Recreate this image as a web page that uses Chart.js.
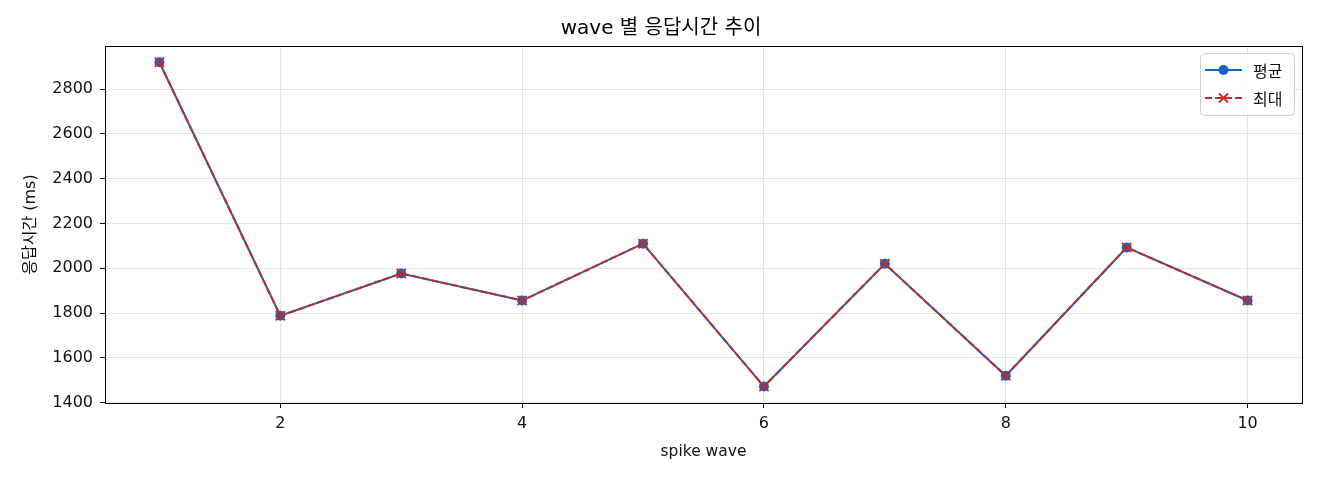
<!DOCTYPE html>
<html>
<head>
<meta charset="utf-8">
<script src="https://cdn.jsdelivr.net/npm/chart.js@4.4.1/dist/chart.umd.min.js"></script>
<style>
  html, body { margin: 0; padding: 0; background: #fff; }
  #wrap { width: 1320px; height: 480px; }
</style>
</head>
<body>
<div id="wrap"><canvas id="waveChart" width="1320" height="480"></canvas></div>
<script>
// wave number on the x axis
const waves = [1, 2, 3, 4, 5, 6, 7, 8, 9, 10];
// response times (ms)
const avgTimes = [2920, 1788, 1977, 1856, 2110, 1472, 2020, 1520, 2093, 1856];
const maxTimes = [2920, 1788, 1977, 1856, 2110, 1472, 2020, 1520, 2093, 1856];
// tick labels
const xTicks = [2, 4, 6, 8, 10];
const yTicks = [1400, 1600, 1800, 2000, 2200, 2400, 2600, 2800];

const FONT = "'DejaVu Sans', 'Noto Sans CJK KR', sans-serif";
const BLUE = '#1565C0';
const RED = '#C62828';
const TEXT = '#111';

function toPoints(values) {
    return waves.map((w, i) => ({ x: w, y: values[i] }));
}

/**
 * Box round the plot area (top and right sides)
 */
const frame = {
    id: 'frame',
    afterDraw(chart) {
        const a = chart.chartArea;
        const ctx = chart.ctx;
        ctx.save();
        ctx.strokeStyle = '#000';
        ctx.lineWidth = 1;
        ctx.strokeRect(a.left + 0.5, a.top + 0.5, a.right - a.left, a.bottom - a.top);
        ctx.restore();
    }
};

/**
 * Legend in the upper right, line + marker samples like matplotlib
 */
const cornerLegend = {
    id: 'cornerLegend',
    afterDraw(chart) {
        const a = chart.chartArea;
        const ctx = chart.ctx;
        const w = 94, h = 62;
        const x0 = a.right - w - 8, y0 = a.top + 7;
        ctx.save();
        ctx.fillStyle = 'rgba(255,255,255,0.85)';
        ctx.strokeStyle = '#d0d0d0';
        ctx.lineWidth = 1;
        ctx.beginPath();
        ctx.roundRect(x0 + 0.5, y0 + 0.5, w, h, 4);
        ctx.fill();
        ctx.stroke();

        chart.data.datasets.forEach((ds, i) => {
            const cy = y0 + 17 + i * 28;
            const lx = x0 + 5;
            ctx.strokeStyle = ds.borderColor;
            ctx.lineWidth = ds.borderWidth;
            ctx.setLineDash(ds.borderDash || []);
            ctx.beginPath();
            ctx.moveTo(lx, cy);
            ctx.lineTo(lx + 37, cy);
            ctx.stroke();
            ctx.setLineDash([]);
            const mx = lx + 18.5;
            if (ds.pointStyle === 'circle') {
                ctx.fillStyle = ds.pointBackgroundColor;
                ctx.beginPath();
                ctx.arc(mx, cy, 5, 0, Math.PI * 2);
                ctx.fill();
            } else {
                ctx.strokeStyle = ds.pointBorderColor;
                ctx.lineWidth = 1.8;
                ctx.beginPath();
                ctx.moveTo(mx - 4.5, cy - 4.5); ctx.lineTo(mx + 4.5, cy + 4.5);
                ctx.moveTo(mx - 4.5, cy + 4.5); ctx.lineTo(mx + 4.5, cy - 4.5);
                ctx.stroke();
            }
            ctx.fillStyle = TEXT;
            ctx.font = "16px 'Noto Sans CJK KR', sans-serif";
            ctx.textBaseline = 'middle';
            ctx.fillText(ds.label, x0 + 53, cy + 1);
        });
        ctx.restore();
    }
};

new Chart(document.getElementById('waveChart'), {
    type: 'line',
    data: {
        datasets: [{
            label: '평균',
            data: toPoints(avgTimes),
            order: 2,
            borderColor: BLUE,
            backgroundColor: BLUE,
            borderWidth: 2,
            pointStyle: 'circle',
            pointRadius: 5,
            pointBackgroundColor: BLUE,
            pointBorderColor: BLUE,
            pointBorderWidth: 0,
            tension: 0
        }, {
            label: '최대',
            data: toPoints(maxTimes),
            order: 1,
            borderColor: RED,
            backgroundColor: RED,
            borderWidth: 2,
            borderDash: [7, 3],
            pointStyle: 'crossRot',
            pointRadius: 6.5,
            pointBorderColor: RED,
            pointBorderWidth: 1.8,
            tension: 0
        }]
    },
    options: {
        responsive: false,
        animation: false,
        layout: { padding: { left: 20, right: 18, top: 0, bottom: 10 } },
        plugins: {
            legend: { display: false },
            tooltip: { enabled: false },
            title: {
                display: true,
                text: 'wave 별 응답시간 추이',
                color: '#000',
                font: { family: FONT, size: 20, weight: 'normal', lineHeight: 1.2 },
                padding: { top: 17, bottom: 5 }
            }
        },
        scales: {
            x: {
                type: 'linear',
                min: 0.55,
                max: 10.45,
                afterBuildTicks: s => { s.ticks = xTicks.map(v => ({ value: v })); },
                afterFit: s => { s.height = 67; },
                grid: { color: '#e4e4e4', tickColor: '#000', tickLength: 5 },
                border: { color: '#000', width: 1 },
                ticks: { color: TEXT, font: { family: FONT, size: 16 }, padding: 6, callback: v => String(v) },
                title: {
                    display: true,
                    text: 'spike wave',
                    color: TEXT,
                    font: { family: FONT, size: 15.5 },
                    padding: { top: 0, bottom: 9 }
                }
            },
            y: {
                min: 1398.5,
                max: 2992.5,
                afterBuildTicks: s => { s.ticks = yTicks.map(v => ({ value: v })); },
                afterFit: s => { s.width = 85; },
                grid: { color: '#e4e4e4', tickColor: '#000', tickLength: 5 },
                border: { color: '#000', width: 1 },
                ticks: { color: TEXT, font: { family: FONT, size: 16 }, padding: 7, callback: v => String(v) },
                title: {
                    display: true,
                    text: '응답시간 (ms)',
                    color: TEXT,
                    font: { family: FONT, size: 16 },
                    padding: { top: 1, bottom: 0 }
                }
            }
        }
    },
    plugins: [frame, cornerLegend]
});
</script>
</body>
</html>
